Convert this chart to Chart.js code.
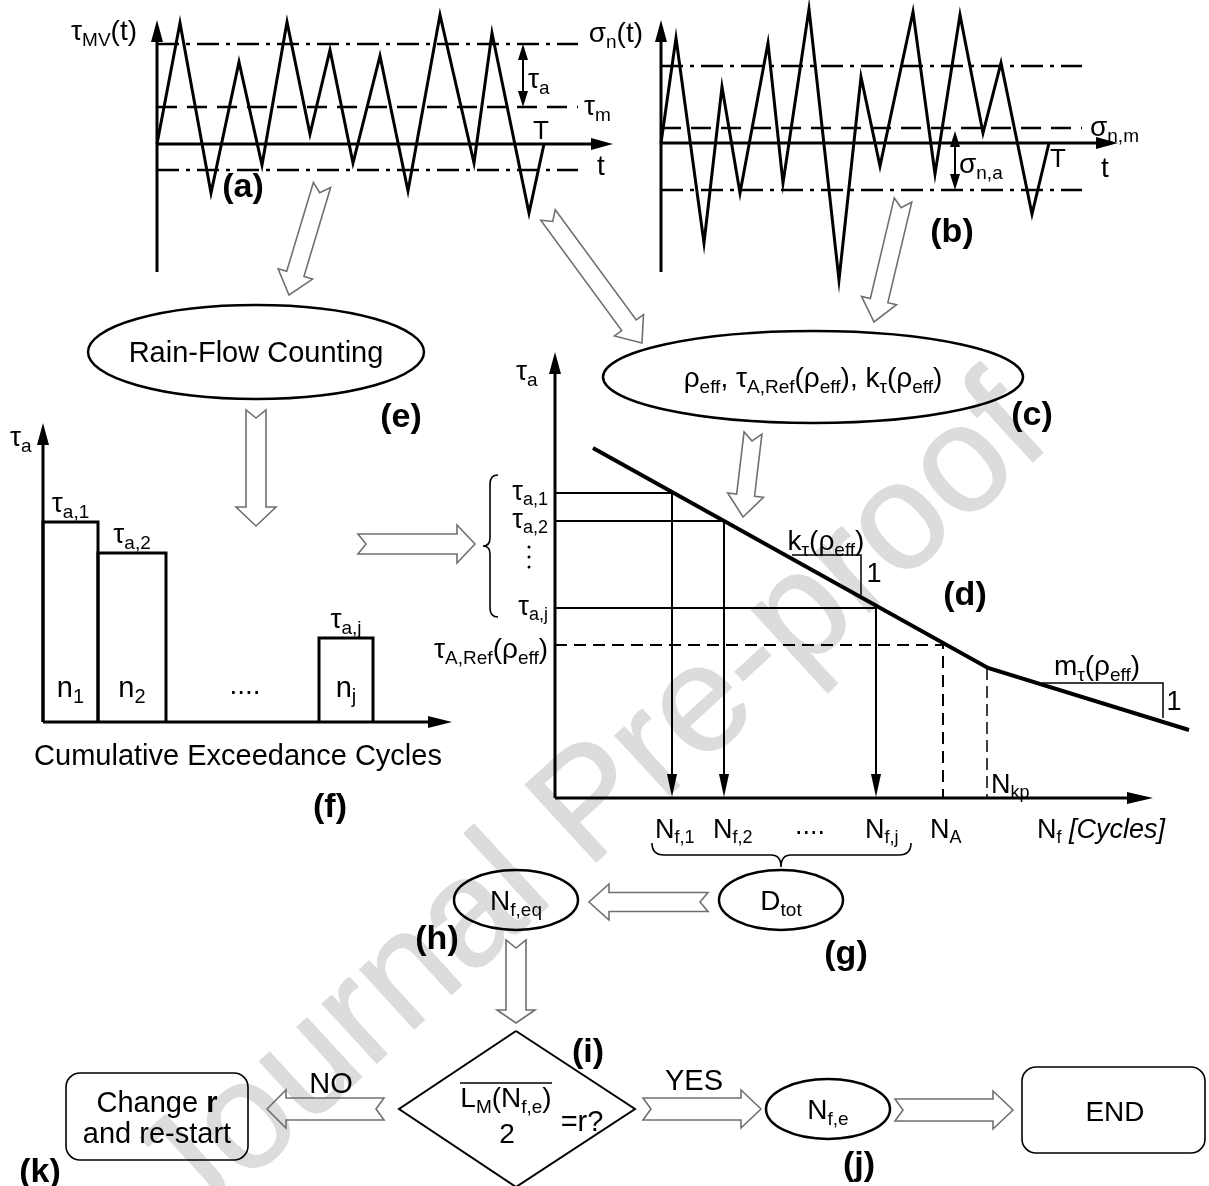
<!DOCTYPE html>
<html>
<head>
<meta charset="utf-8">
<script src="https://cdn.jsdelivr.net/npm/chart.js@4.4.1/dist/chart.umd.min.js"></script>
<style>
  body { margin: 0; background: #fff; }
  #wrap { position: relative; width: 1209px; height: 1186px; overflow: hidden; }
  canvas { position: absolute; left: 0; top: 0; }
</style>
</head>
<body>
<div id="wrap"></div>
<script>
var W = 1209, H = 1186;
var FONT = '"Liberation Sans", Arial, sans-serif';
var DASHDOT = [22, 7, 4, 7];
var LBL = 27, TAG = 34;

// (a) shear stress history tau_MV(t)
var tauTime = [0, 23, 54, 82, 105, 130, 153, 173, 196, 223, 251, 283, 317, 335, 372, 387];
var tauMV   = [0, 121, -49, 82, -21, 122, 10, 94, -19, 88, -47, 129, -19, 111, -69, 0];
var tauMean = 37, tauAmp = 63, tauLineEnd = 421;

// (b) normal stress history sigma_n(t)
var sigTime = [0, 15, 43, 61, 79, 107, 122, 148, 178, 200, 219, 252, 274, 299, 322, 340, 371, 388];
var sigN    = [0, 105, -100, 56, -50, 100, -40, 134, -137, 66, -23, 131, -31, 128, 10, 80, -71, 0];
var sigMean = 15, sigAmp = 62, sigLineEnd = 421;

// (f) cumulative spectrum blocks
var blockTop    = ['τ_{a,1}', 'τ_{a,2}', 'τ_{a,j}'];
var blockCount  = ['n_{1}', 'n_{2}', 'n_{j}'];
var blockStart  = [0, 55, 276];
var blockEnd    = [55, 123, 330];
var blockTau    = [200, 169, 84];

// (d) Woehler curve
var curveN   = [38, 433, 634];
var curveTau = [350, 130, 68];
var levelTau = [305, 277, 190];
var levelNf  = [117, 169, 321];
var levelLabels = ['τ_{a,1}', 'τ_{a,2}', 'τ_{a,j}'];
var lifeLabels  = ['N_{f,1}', 'N_{f,2}', 'N_{f,j}'];
var tauRef = 153, nA = 388, nKp = 432;

function parseRich(s) {
  var parts = [], re = /([_*\/])\{([^}]*)\}/g, last = 0, m;
  while ((m = re.exec(s))) {
    if (m.index > last) parts.push({ t: s.slice(last, m.index) });
    parts.push({ t: m[2], sub: m[1] === '_', bold: m[1] === '*', ital: m[1] === '/' });
    last = re.lastIndex;
  }
  if (last < s.length) parts.push({ t: s.slice(last) });
  return parts;
}

function rich(ctx, s, x, y, size, align, bold) {
  var parts = parseRich(s), w = 0;
  parts.forEach(function (p) {
    var sz = p.sub ? size * 0.68 : size;
    p.font = (p.ital ? 'italic ' : '') + ((p.bold || bold) ? 'bold ' : '') + Math.round(sz) + 'px ' + FONT;
    ctx.font = p.font;
    p.w = ctx.measureText(p.t).width;
    w += p.w;
  });
  var cx = align === 'center' ? x - w / 2 : (align === 'right' ? x - w : x);
  var base = y + size * 0.36;
  ctx.textAlign = 'left';
  ctx.textBaseline = 'alphabetic';
  ctx.fillStyle = '#000';
  parts.forEach(function (p) {
    ctx.font = p.font;
    ctx.fillText(p.t, cx, p.sub ? base + size * 0.2 : base);
    cx += p.w;
  });
}

function head(ctx, x0, y0, x1, y1, len, half) {
  var a = Math.atan2(y1 - y0, x1 - x0), c = Math.cos(a), s = Math.sin(a);
  ctx.beginPath();
  ctx.moveTo(x1, y1);
  ctx.lineTo(x1 - len * c + half * s, y1 - len * s - half * c);
  ctx.lineTo(x1 - len * c - half * s, y1 - len * s + half * c);
  ctx.closePath();
  ctx.fillStyle = '#000';
  ctx.fill();
}

function arrow(ctx, x0, y0, x1, y1, w, len, half, both) {
  var L = Math.hypot(x1 - x0, y1 - y0), ux = (x1 - x0) / L, uy = (y1 - y0) / L;
  var sx = both ? x0 + ux * len * 0.8 : x0, sy = both ? y0 + uy * len * 0.8 : y0;
  ctx.strokeStyle = '#000';
  ctx.lineWidth = w;
  ctx.setLineDash([]);
  ctx.beginPath();
  ctx.moveTo(sx, sy);
  ctx.lineTo(x1 - ux * len * 0.8, y1 - uy * len * 0.8);
  ctx.stroke();
  head(ctx, x0, y0, x1, y1, len, half);
  if (both) head(ctx, x1, y1, x0, y0, len, half);
}

function line(ctx, pts, w, dash) {
  ctx.strokeStyle = '#000';
  ctx.lineWidth = w;
  ctx.setLineDash(dash || []);
  ctx.beginPath();
  pts.forEach(function (p, i) { if (i) ctx.lineTo(p[0], p[1]); else ctx.moveTo(p[0], p[1]); });
  ctx.stroke();
  ctx.setLineDash([]);
}

function blockArrow(ctx, a) {
  var x0 = a[0], y0 = a[1], x1 = a[2], y1 = a[3], s = a[4], h = a[5], hl = a[6], n = 8;
  var L = Math.hypot(x1 - x0, y1 - y0), ux = (x1 - x0) / L, uy = (y1 - y0) / L, vx = -uy, vy = ux;
  var P = function (u, v) { return [x0 + ux * u + vx * v, y0 + uy * u + vy * v]; };
  var pts = [P(0, -s), P(L - hl, -s), P(L - hl, -h), P(L, 0), P(L - hl, h), P(L - hl, s), P(0, s), P(n, 0)];
  ctx.beginPath();
  pts.forEach(function (p, i) { if (i) ctx.lineTo(p[0], p[1]); else ctx.moveTo(p[0], p[1]); });
  ctx.closePath();
  ctx.strokeStyle = '#707070';
  ctx.lineWidth = 1.6;
  ctx.lineJoin = 'miter';
  ctx.stroke();
}

function series(xs, ys, w, dash) {
  return {
    data: xs.map(function (x, i) { return { x: x, y: ys[i] }; }),
    showLine: true, borderColor: '#000', borderWidth: w, borderDash: dash || [],
    pointRadius: 0, tension: 0, clip: false, fill: false
  };
}

function makeChart(area, xr, yr, datasets, draw, reverse) {
  var c = document.createElement('canvas');
  c.width = W; c.height = H;
  document.getElementById('wrap').appendChild(c);
  return new Chart(c, {
    type: 'scatter',
    data: { datasets: datasets },
    options: {
      responsive: false, animation: false, events: [],
      layout: { autoPadding: false, padding: { left: area[0], top: area[1], right: W - area[2], bottom: H - area[3] } },
      plugins: { legend: { display: false }, tooltip: { enabled: false } },
      scales: {
        x: { type: 'linear', display: false, min: xr[0], max: xr[1] },
        y: { type: 'linear', display: false, min: yr[0], max: yr[1], reverse: !!reverse }
      }
    },
    plugins: [{
      id: 'draw' + Math.random().toString(36).slice(2),
      afterDatasetsDraw: function (ch) {
        var ctx = ch.ctx, sx = ch.scales.x, sy = ch.scales.y;
        var X = function (v) { return sx.getPixelForValue(v); };
        var Y = function (v) { return sy.getPixelForValue(v); };
        ctx.save();
        draw(ctx, X, Y);
        ctx.restore();
      }
    }]
  });
}

// ---------- flow chart layer (bottom) ----------
var ellipses = [
  { cx: 256, cy: 352, rx: 168, ry: 47, text: 'Rain-Flow Counting', size: 29 },
  { cx: 813, cy: 377, rx: 210, ry: 46, text: 'ρ_{eff}, τ_{A,Ref}(ρ_{eff}), k_{τ}(ρ_{eff})', size: 28 },
  { cx: 781, cy: 900, rx: 62, ry: 30, text: 'D_{tot}', size: 28 },
  { cx: 516, cy: 900, rx: 62, ry: 30, text: 'N_{f,eq}', size: 28 },
  { cx: 828, cy: 1109, rx: 62, ry: 30, text: 'N_{f,e}', size: 28 }
];
var blockArrows = [
  [322, 185, 289, 295, 9, 18, 22],
  [548, 215, 642, 343, 9, 18, 22],
  [903, 200, 874, 322, 9, 18, 22],
  [753, 433, 743, 517, 9, 18, 22],
  [256, 410, 256, 526, 10, 20, 19],
  [358, 544, 475, 544, 10, 19, 18],
  [708, 902, 589, 902, 9.5, 18, 20],
  [516, 940, 516, 1023, 10, 19, 13],
  [384, 1109, 267, 1109, 11, 19, 19],
  [643, 1109, 761, 1109, 11, 19, 20],
  [895, 1110, 1013, 1110, 11, 19, 20]
];
var tags = [
  ['(e)', 401, 415], ['(c)', 1032, 413], ['(h)', 437, 937], ['(g)', 846, 952],
  ['(i)', 588, 1050], ['(j)', 859, 1163], ['(k)', 40, 1170]
];

function roundBox(ctx, x0, y0, x1, y1, r) {
  ctx.beginPath();
  ctx.moveTo(x0 + r, y0);
  ctx.arcTo(x1, y0, x1, y1, r);
  ctx.arcTo(x1, y1, x0, y1, r);
  ctx.arcTo(x0, y1, x0, y0, r);
  ctx.arcTo(x0, y0, x1, y0, r);
  ctx.closePath();
  ctx.strokeStyle = '#000';
  ctx.lineWidth = 1.6;
  ctx.stroke();
}

makeChart([0, 0, W, H], [0, W], [0, H], [], function (ctx, X, Y) {
  // watermark
  ctx.save();
  ctx.translate(X(593), Y(808));
  ctx.rotate(-42.5 * Math.PI / 180);
  ctx.font = '152px ' + FONT;
  ctx.fillStyle = '#dcdcdc';
  ctx.strokeStyle = '#dcdcdc';
  ctx.lineWidth = 1.5;
  ctx.lineJoin = 'round';
  ctx.textAlign = 'center';
  ctx.textBaseline = 'middle';
  ctx.fillText('Journal Pre-proof', 0, 0);
  ctx.strokeText('Journal Pre-proof', 0, 0);
  ctx.restore();

  blockArrows.forEach(function (a) {
    blockArrow(ctx, [X(a[0]), Y(a[1]), X(a[2]), Y(a[3]), a[4], a[5], a[6]]);
  });
  ellipses.forEach(function (e) {
    ctx.beginPath();
    ctx.ellipse(X(e.cx), Y(e.cy), e.rx, e.ry, 0, 0, Math.PI * 2);
    ctx.strokeStyle = '#000';
    ctx.lineWidth = 2.5;
    ctx.stroke();
    rich(ctx, e.text, X(e.cx), Y(e.cy), e.size, 'center');
  });
  // decision diamond
  line(ctx, [[X(516), Y(1031)], [X(635), Y(1109)], [X(516), Y(1187)], [X(399), Y(1109)], [X(516), Y(1031)]], 2);
  line(ctx, [[X(460), Y(1083)], [X(552), Y(1083)]], 1.5);
  rich(ctx, 'L_{M}(N_{f,e})', X(506), Y(1097), 28, 'center');
  rich(ctx, '2', X(507), Y(1133), 28, 'center');
  rich(ctx, '=r?', X(582), Y(1121), 29, 'center');
  rich(ctx, 'NO', X(331), Y(1083), 29, 'center');
  rich(ctx, 'YES', X(694), Y(1080), 29, 'center');
  // boxes
  roundBox(ctx, X(66), Y(1073), X(248), Y(1160), 14);
  rich(ctx, 'Change *{r}', X(157), Y(1102), 29, 'center');
  rich(ctx, 'and re-start', X(157), Y(1133), 29, 'center');
  roundBox(ctx, X(1022), Y(1067), X(1205), Y(1153), 14);
  rich(ctx, 'END', X(1115), Y(1111), 28, 'center');
  tags.forEach(function (t) { rich(ctx, t[0], X(t[1]), Y(t[2]), TAG, 'center', true); });
}, true);

// ---------- (a) ----------
makeChart([157, 20, 613, 272], [0, 456], [-128, 124], [
  series(tauTime, tauMV, 3),
  series([0, tauLineEnd], [tauMean + tauAmp, tauMean + tauAmp], 2.5, DASHDOT),
  series([0, tauLineEnd], [tauMean, tauMean], 2.5, [20, 10]),
  series([0, tauLineEnd], [tauMean - tauAmp, tauMean - tauAmp], 2.5, DASHDOT)
], function (ctx, X, Y) {
  arrow(ctx, X(0), Y(-128), X(0), Y(124), 3, 22, 6);
  arrow(ctx, X(0), Y(0), X(456), Y(0), 3, 22, 6);
  arrow(ctx, X(366), Y(tauMean + tauAmp), X(366), Y(tauMean), 2, 16, 5, true);
  rich(ctx, 'τ_{MV}(t)', X(-20), Y(114), 28, 'right');
  rich(ctx, 'τ_{a}', X(371), Y(66), 28, 'left');
  rich(ctx, 'τ_{m}', X(427), Y(39), 28, 'left');
  rich(ctx, 'T', X(384), Y(14), 26, 'center');
  rich(ctx, 't', X(444), Y(-21), 28, 'center');
  rich(ctx, '(a)', X(86), Y(-41), TAG, 'center', true);
});

// ---------- (b) ----------
makeChart([661, 20, 1118, 272], [0, 457], [-129, 123], [
  series(sigTime, sigN, 3),
  series([0, sigLineEnd], [sigMean + sigAmp, sigMean + sigAmp], 2.5, DASHDOT),
  series([0, sigLineEnd], [sigMean, sigMean], 2.5, [20, 10]),
  series([0, sigLineEnd], [sigMean - sigAmp, sigMean - sigAmp], 2.5, DASHDOT)
], function (ctx, X, Y) {
  arrow(ctx, X(0), Y(-129), X(0), Y(123), 3, 22, 6);
  arrow(ctx, X(0), Y(0), X(457), Y(0), 3, 22, 6);
  arrow(ctx, X(294), Y(12), X(294), Y(sigMean - sigAmp), 2, 16, 5, true);
  rich(ctx, 'σ_{n}(t)', X(-18), Y(111), 28, 'right');
  rich(ctx, 'σ_{n,m}', X(429), Y(17), 28, 'left');
  rich(ctx, 'σ_{n,a}', X(298), Y(-20), 28, 'left');
  rich(ctx, 'T', X(397), Y(-15), 26, 'center');
  rich(ctx, 't', X(444), Y(-24), 28, 'center');
  rich(ctx, '(b)', X(291), Y(-87), TAG, 'center', true);
});

// ---------- (f) ----------
makeChart([43, 423, 452, 722], [0, 409], [0, 299], blockStart.map(function (s, i) {
  return series([s, s, blockEnd[i], blockEnd[i]], [0, blockTau[i], blockTau[i], 0], 3);
}), function (ctx, X, Y) {
  arrow(ctx, X(0), Y(0), X(0), Y(299), 3, 22, 6);
  arrow(ctx, X(0), Y(0), X(409), Y(0), 3, 24, 6);
  rich(ctx, 'τ_{a}', X(-33), Y(286), 28, 'left');
  blockStart.forEach(function (s, i) {
    var c = (s + blockEnd[i]) / 2;
    rich(ctx, blockTop[i], X(c), Y(blockTau[i] + 20), 28, 'center');
    rich(ctx, blockCount[i], X(c), Y(35), 29, 'center');
  });
  rich(ctx, '....', X(202), Y(38), 28, 'center');
  rich(ctx, 'Cumulative Exceedance Cycles', X(195), Y(-33), 29, 'center');
  rich(ctx, '(f)', X(287), Y(-83), TAG, 'center', true);
});

// ---------- (d) ----------
var dSets = [series(curveN, curveTau, 4)];
levelTau.forEach(function (t, i) { dSets.push(series([0, levelNf[i]], [t, t], 2)); });
dSets.push(series([0, nA, nA], [tauRef, tauRef, 0], 2, [12, 7]));
dSets.push(series([nKp, nKp], [curveTau[1], 0], 1.5, [12, 6]));

makeChart([555, 352, 1153, 798], [0, 598], [0, 446], dSets, function (ctx, X, Y) {
  arrow(ctx, X(0), Y(0), X(0), Y(446), 3, 22, 6);
  arrow(ctx, X(0), Y(0), X(598), Y(0), 3, 26, 6);
  levelNf.forEach(function (n, i) {
    arrow(ctx, X(n), Y(levelTau[i]), X(n), Y(1), 2, 23, 5);
    rich(ctx, levelLabels[i], X(-7), Y(levelTau[i] + 3), LBL, 'right');
    rich(ctx, lifeLabels[i], X(n) - (i === 0 ? 17 : 11), Y(-30), LBL, 'left');
  });
  rich(ctx, 'τ_{A,Ref}(ρ_{eff})', X(-7), Y(tauRef - 3), 28, 'right');
  rich(ctx, 'N_{A}', X(nA) - 13, Y(-30), LBL, 'left');
  rich(ctx, '....', X(255), Y(-26), LBL, 'center');
  rich(ctx, 'N_{f} /{[Cycles]}', X(482), Y(-30), LBL, 'left');
  rich(ctx, 'N_{kp}', X(nKp) + 4, Y(15), LBL, 'left');
  rich(ctx, 'τ_{a}', X(-39), Y(428), 28, 'left');
  // slope triangles
  line(ctx, [[X(237), Y(243)], [X(306), Y(243)], [X(306), Y(203)]], 1.5);
  rich(ctx, 'k_{τ}(ρ_{eff})', X(271), Y(258), 28, 'center');
  rich(ctx, '1', X(319), Y(226), LBL, 'center');
  line(ctx, [[X(487), Y(115)], [X(608), Y(115)], [X(608), Y(80)]], 1.5);
  rich(ctx, 'm_{τ}(ρ_{eff})', X(542), Y(133), 28, 'center');
  rich(ctx, '1', X(619), Y(98), LBL, 'center');
  rich(ctx, '(d)', X(410), Y(205), TAG, 'center', true);
  // vertical dots between level labels
  ctx.fillStyle = '#000';
  [-10, 0, 10].forEach(function (d) { ctx.beginPath(); ctx.arc(X(-26), Y(241) + d, 1.5, 0, Math.PI * 2); ctx.fill(); });
  // left brace
  var bx = X(-57), tx = X(-72), y0 = Y(323), y1 = Y(181), ym = (y0 + y1) / 2;
  ctx.strokeStyle = '#000'; ctx.lineWidth = 1.6;
  ctx.beginPath();
  ctx.moveTo(bx, y0);
  ctx.quadraticCurveTo(bx - 8, y0, bx - 8, y0 + 9);
  ctx.lineTo(bx - 8, ym - 8);
  ctx.quadraticCurveTo(bx - 8, ym, tx, ym);
  ctx.quadraticCurveTo(bx - 8, ym, bx - 8, ym + 8);
  ctx.lineTo(bx - 8, y1 - 9);
  ctx.quadraticCurveTo(bx - 8, y1, bx, y1);
  ctx.stroke();
  // bottom brace
  var lx = X(97), rx = X(356), mx = X(226), ty = Y(-45), my = Y(-57), py = Y(-69);
  ctx.beginPath();
  ctx.moveTo(lx, ty);
  ctx.quadraticCurveTo(lx, my, lx + 12, my);
  ctx.lineTo(mx - 10, my);
  ctx.quadraticCurveTo(mx, my, mx, py);
  ctx.quadraticCurveTo(mx, my, mx + 10, my);
  ctx.lineTo(rx - 12, my);
  ctx.quadraticCurveTo(rx, my, rx, ty);
  ctx.stroke();
});
</script>
</body>
</html>
